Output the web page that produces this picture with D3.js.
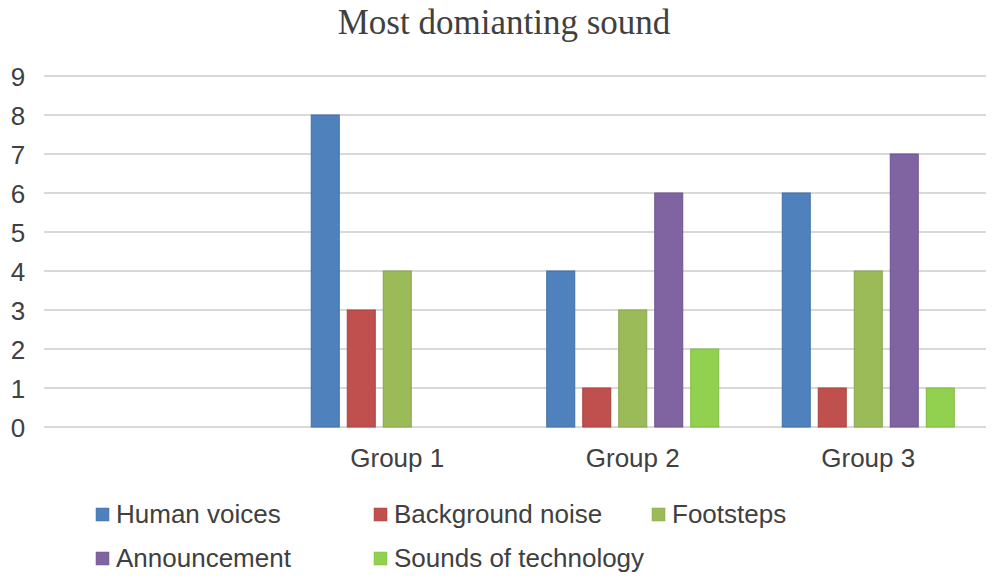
<!DOCTYPE html>
<html>
<head>
<meta charset="utf-8">
<script src="https://cdn.jsdelivr.net/npm/d3@7"></script>
<style>
  body { margin: 0; background: #fff; }
  svg { display: block; }
</style>
</head>
<body>
<div id="chart"></div>
<script>
// 类别（第一个为空）
var categories = ['', 'Group 1', 'Group 2', 'Group 3'];
var series = ['Human voices', 'Background noise', 'Footsteps', 'Announcement', 'Sounds of technology'];
var humanVoices = [null, 8, 4, 6];
var backgroundNoise = [null, 3, 1, 1];
var footsteps = [null, 4, 3, 4];
var announcement = [null, null, 6, 7];
var soundsOfTech = [null, null, 2, 1];
var yTicks = [0, 1, 2, 3, 4, 5, 6, 7, 8, 9];
var colors = ['#4F81BD', '#C0504D', '#9BBB59', '#8064A2', '#92D050'];
var strokes = ['#3f6fa8', '#a94340', '#87a64b', '#6d5390', '#80bb42'];

var values = [humanVoices, backgroundNoise, footsteps, announcement, soundsOfTech];

var width = 1000, height = 583;
var margin = {left: 44, right: 14, top: 76, bottom: 156};
var font = '"Liberation Sans", Arial, sans-serif';

var svg = d3.select('#chart').append('svg')
    .attr('width', width)
    .attr('height', height);

// 标题
svg.append('text')
    .attr('x', 504)
    .attr('y', 34)
    .attr('text-anchor', 'middle')
    .style('font-family', '"Liberation Serif", "Times New Roman", serif')
    .style('font-size', '35px')
    .style('fill', '#404040')
    .text('Most domianting sound');

var x = d3.scaleBand()
    .domain(categories)
    .range([margin.left, width - margin.right])
    .paddingInner(0)
    .paddingOuter(0);

var y = d3.scaleLinear()
    .domain([0, 9])
    .range([height - margin.bottom, margin.top]);

// 组内比例尺
var barW = 28, barGap = 8;
var groupW = series.length * (barW + barGap) - barGap;
var inner = d3.scaleBand()
    .domain(series)
    .range([0, groupW])
    .paddingInner(barGap / (barW + barGap))
    .paddingOuter(0);

// 网格线
svg.append('g').selectAll('line')
    .data(yTicks)
    .enter()
    .append('line')
    .attr('x1', margin.left)
    .attr('x2', width - margin.right)
    .attr('y1', function (d) { return y(d); })
    .attr('y2', function (d) { return y(d); })
    .style('stroke', '#d9d9d9')
    .style('stroke-width', 2);

// y轴
var yAxis = svg.append('g')
    .attr('transform', 'translate(' + 28 + ',0)')
    .call(d3.axisLeft(y).tickValues(yTicks).tickSize(0).tickPadding(0));
yAxis.select('path').remove();
yAxis.selectAll('text')
    .attr('x', -10)
    .attr('text-anchor', 'middle')
    .attr('dy', '0.36em')
    .style('font-family', font)
    .style('font-size', '26px')
    .style('fill', '#404040');

// 柱子
var groups = svg.append('g').selectAll('g')
    .data(categories)
    .enter()
    .append('g')
    .attr('transform', function (d) {
        return 'translate(' + (x(d) + (x.bandwidth() - groupW) / 2) + ',0)';
    });

groups.selectAll('rect')
    .data(function (d, ci) {
        return series.map(function (s, si) {
            return {s: s, i: si, v: values[si][ci]};
        }).filter(function (e) { return e.v != null; });
    })
    .enter()
    .append('rect')
    .attr('x', function (d) { return inner(d.s); })
    .attr('width', inner.bandwidth())
    .attr('y', function (d) { return y(d.v); })
    .attr('height', function (d) { return y(0) - y(d.v); })
    .style('fill', function (d) { return colors[d.i]; })
    .style('stroke', function (d) { return strokes[d.i]; })
    .style('stroke-width', 1);

// x轴
var xAxis = svg.append('g')
    .attr('transform', 'translate(0,' + y(0) + ')')
    .call(d3.axisBottom(x).tickSize(0).tickPadding(0));
xAxis.select('path').remove();
xAxis.selectAll('text')
    .attr('y', 31)
    .attr('dy', '0.36em')
    .style('font-family', font)
    .style('font-size', '26px')
    .style('fill', '#404040');

// 图例
var legend = svg.append('g');
var item = legend.selectAll('g')
    .data(series)
    .enter()
    .append('g')
    .attr('transform', function (d, i) {
        var col = i < 3 ? i : i - 3;
        var row = i < 3 ? 0 : 1;
        return 'translate(' + (96 + col * 278) + ',' + (514 + row * 44) + ')';
    });
item.append('rect')
    .attr('x', 0)
    .attr('y', -6)
    .attr('width', 13)
    .attr('height', 13)
    .style('fill', function (d, i) { return colors[i]; })
    .style('stroke', function (d, i) { return strokes[i]; })
    .style('stroke-width', 0.5);
item.append('text')
    .attr('x', 20)
    .attr('dy', '0.36em')
    .style('font-family', font)
    .style('font-size', '26px')
    .style('fill', '#404040')
    .text(function (d) { return d; });
</script>
</body>
</html>
